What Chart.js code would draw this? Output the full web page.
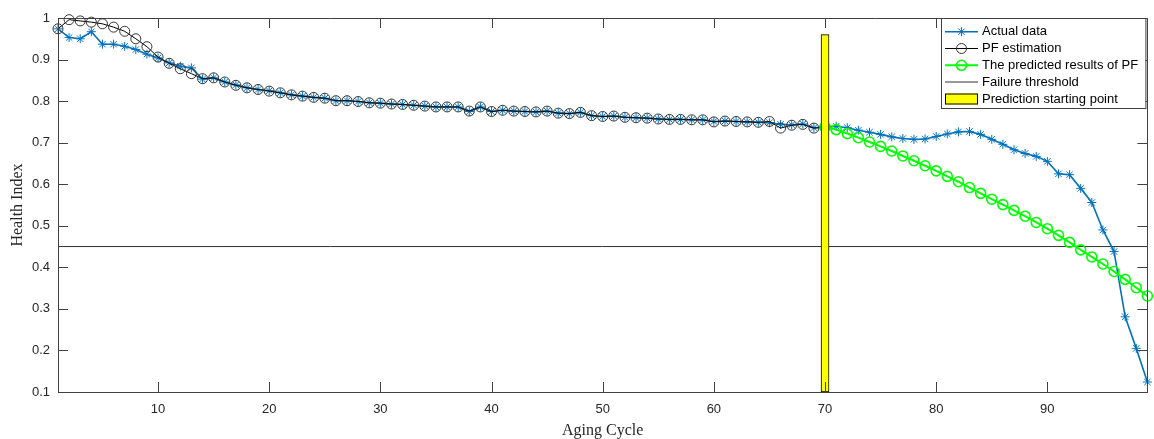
<!DOCTYPE html>
<html><head><meta charset="utf-8">
<script src="https://cdn.jsdelivr.net/npm/chart.js@4.4.0/dist/chart.umd.min.js"></script>
<style>html,body{margin:0;padding:0;background:#fff}#wrap{width:1154px;height:439px;position:relative}</style>
</head><body><div id="wrap"><canvas id="c" width="1154" height="439"></canvas></div>
<script>
// ---------------- data ----------------
const cycleStart = 1;
const cycleEnd = 99;
const xTickValues = [10, 20, 30, 40, 50, 60, 70, 80, 90];
const yTickValues = [0.1, 0.2, 0.3, 0.4, 0.5, 0.6, 0.7, 0.8, 0.9, 1];
const yMin = 0.1, yMax = 1;

// Actual data, cycles 1..99
const actualData = [
  0.974, 0.953, 0.950, 0.967, 0.937, 0.937, 0.932, 0.924, 0.913, 0.904,
  0.892, 0.884, 0.880, 0.853, 0.856, 0.846, 0.839, 0.832, 0.828, 0.825,
  0.820, 0.815, 0.812, 0.809, 0.807, 0.801, 0.801, 0.799, 0.796, 0.795,
  0.793, 0.792, 0.790, 0.788, 0.786, 0.786, 0.786, 0.775, 0.786, 0.775,
  0.778, 0.776, 0.775, 0.774, 0.776, 0.771, 0.770, 0.773, 0.765, 0.763,
  0.764, 0.761, 0.760, 0.759, 0.757, 0.756, 0.756, 0.755, 0.755, 0.751,
  0.752, 0.751, 0.750, 0.749, 0.748, 0.744, 0.743, 0.745, 0.736, 0.738,
  0.7395, 0.736, 0.730, 0.725, 0.720, 0.714, 0.710, 0.708, 0.709, 0.715,
  0.721, 0.726, 0.727, 0.720, 0.708, 0.696, 0.683, 0.674, 0.667, 0.655,
  0.625, 0.623, 0.590, 0.556, 0.490, 0.438, 0.281, 0.205, 0.124
];

// PF estimation, cycles 1..70
const pfEstimation = [
  0.974, 0.996, 0.993, 0.990, 0.986, 0.978, 0.968, 0.950, 0.931, 0.906,
  0.891, 0.878, 0.866, 0.854, 0.856, 0.846, 0.838, 0.832, 0.828, 0.824,
  0.820, 0.815, 0.812, 0.809, 0.807, 0.801, 0.801, 0.799, 0.796, 0.795,
  0.793, 0.792, 0.790, 0.788, 0.786, 0.786, 0.786, 0.776, 0.786, 0.775,
  0.778, 0.776, 0.775, 0.774, 0.776, 0.771, 0.770, 0.773, 0.765, 0.763,
  0.764, 0.761, 0.760, 0.759, 0.757, 0.756, 0.756, 0.755, 0.755, 0.750,
  0.752, 0.751, 0.750, 0.749, 0.751, 0.735, 0.742, 0.744, 0.735, 0.737
];

// Predicted results of PF, cycles 70..99
const predictionStart = 70;
const predictedPF = [
  0.738, 0.7315, 0.722, 0.712, 0.7016, 0.691, 0.680, 0.668, 0.6565, 0.6445,
  0.632, 0.619, 0.606, 0.592, 0.578, 0.564, 0.551, 0.537, 0.523, 0.508,
  0.493, 0.477, 0.460, 0.442, 0.425, 0.408, 0.390, 0.371, 0.351, 0.331
];

const failureThreshold = 0.45;
const predictionBarTop = 0.96;

const seriesNames = ['Actual data', 'PF estimation', 'The predicted results of PF', 'Failure threshold', 'Prediction starting point'];
const xTitle = 'Aging Cycle';
const yTitle = 'Health Index';

// ---------------- build ----------------
const toXY = (arr, start) => arr.map((v, i) => ({x: start + i, y: v}));

const BLUE = '#0072BD';
const GREEN = '#00FF00';
const AXIS = '#404040';
const TXT = '#262626';

const frameLegendPlugin = {
  id: 'frameLegend',
  afterDatasetsDraw(chart) {
    const {ctx, chartArea: a, scales: {x, y}} = chart;
    ctx.save();
    ctx.strokeStyle = AXIS;
    ctx.lineWidth = 1;
    ctx.beginPath();
    ctx.rect(Math.round(a.left) + 0.5, Math.round(a.top) + 0.5, Math.round(a.right - a.left), Math.round(a.bottom - a.top));
    ctx.stroke();
    const tl = 10;
    ctx.beginPath();
    x.ticks.forEach(t => {
      const px = Math.round(x.getPixelForValue(t.value)) + 0.5;
      ctx.moveTo(px, a.bottom); ctx.lineTo(px, a.bottom - tl);
      ctx.moveTo(px, a.top); ctx.lineTo(px, a.top + tl);
    });
    y.ticks.forEach(t => {
      const py = Math.round(y.getPixelForValue(t.value)) + 0.5;
      ctx.moveTo(a.left, py); ctx.lineTo(a.left + tl, py);
      ctx.moveTo(a.right, py); ctx.lineTo(a.right - tl, py);
    });
    ctx.stroke();
    ctx.restore();
  },
  afterDraw(chart) {
    const {ctx, chartArea: a} = chart;
    const ds = chart.data.datasets;
    ctx.save();
    const L = 941, R = a.right - 2, T = Math.round(a.top), B = 108;
    ctx.fillStyle = '#fff';
    ctx.fillRect(L, T, R - L, B - T);
    ctx.strokeStyle = AXIS;
    ctx.lineWidth = 1;
    ctx.strokeRect(L + 0.5, T + 0.5, R - L, B - T);
    const rows = [31.7, 48.5, 65.3, 82, 99];
    const x0 = 945, x1 = 978, xm = (x0 + x1) / 2;
    ctx.font = '13px "Liberation Sans", Arial, sans-serif';
    ctx.textBaseline = 'middle';
    const order = [0, 1, 2, 3, 4];
    order.forEach((di, r) => {
      const d = ds.find(s => s.label === seriesNames[di]);
      const yy = rows[r];
      if (d.type === 'bar') {
        ctx.fillStyle = d.backgroundColor;
        ctx.fillRect(x0, yy - 5.5, x1 - x0, 11);
        ctx.strokeStyle = d.borderColor;
        ctx.lineWidth = 1;
        ctx.strokeRect(x0 + 0.5, yy - 5.5 + 0.5, x1 - x0 - 1, 10);
      } else {
        ctx.strokeStyle = d.borderColor;
        ctx.lineWidth = d.borderWidth;
        ctx.beginPath(); ctx.moveTo(x0, yy); ctx.lineTo(x1, yy); ctx.stroke();
        if (d.pointRadius > 0) {
          ctx.strokeStyle = d.pointBorderColor;
          ctx.fillStyle = 'rgba(0,0,0,0)';
          ctx.lineWidth = d.pointBorderWidth;
          Chart.helpers.drawPoint(ctx, {pointStyle: d.pointStyle, radius: d.pointRadius, rotation: 0, borderWidth: d.pointBorderWidth}, xm, yy);
        }
      }
      ctx.fillStyle = '#000';
      ctx.textAlign = 'left';
      ctx.fillText(seriesNames[di], 982, yy);
    });
    ctx.restore();
  }
};

const chart = new Chart(document.getElementById('c'), {
  type: 'line',
  data: {
    datasets: [
      {
        label: seriesNames[4], type: 'bar',
        data: [{x: predictionStart, y: [yMin, predictionBarTop]}],
        backgroundColor: '#FFFF00', borderColor: '#000', borderWidth: 1, borderSkipped: false,
        barThickness: 8, order: 0
      },
      {
        label: seriesNames[2], data: toXY(predictedPF, predictionStart),
        borderColor: GREEN, borderWidth: 2, pointStyle: 'circle', pointRadius: 5,
        pointBorderColor: GREEN, pointBackgroundColor: 'rgba(0,0,0,0)', pointBorderWidth: 1.6,
        tension: 0, clip: false, order: 1
      },
      {
        label: seriesNames[1], data: toXY(pfEstimation, cycleStart),
        borderColor: '#000', borderWidth: 1, pointStyle: 'circle', pointRadius: 5,
        pointBorderColor: '#333', pointBackgroundColor: 'rgba(0,0,0,0)', pointBorderWidth: 1,
        tension: 0, clip: false, order: 2
      },
      {
        label: seriesNames[0], data: toXY(actualData, cycleStart),
        borderColor: BLUE, borderWidth: 1.6, pointStyle: 'star', pointRadius: 4.5,
        pointBorderColor: BLUE, pointBackgroundColor: BLUE, pointBorderWidth: 1,
        tension: 0, clip: false, order: 3
      },
      {
        label: seriesNames[3], data: [{x: cycleStart, y: failureThreshold}, {x: cycleEnd, y: failureThreshold}],
        borderColor: '#333', borderWidth: 1, pointRadius: 0, tension: 0, order: 4
      }
    ]
  },
  options: {
    responsive: false, animation: false, devicePixelRatio: 1,
    layout: {padding: {left: 0, top: 18, right: 3, bottom: 0}},
    plugins: {legend: {display: false}, tooltip: {enabled: false}},
    scales: {
      x: {
        type: 'linear', min: cycleStart, max: cycleEnd, offset: false,
        grid: {display: false, drawTicks: false},
        border: {display: true, color: AXIS, width: 1},
        afterBuildTicks: s => { s.ticks = xTickValues.map(v => ({value: v})); },
        afterFit: s => { s.height = 47; s.paddingLeft = 0; s.paddingRight = 0; },
        ticks: {padding: 10, color: TXT, font: {family: '"Liberation Sans", Arial, sans-serif', size: 13}, maxRotation: 0, autoSkip: false,
          callback: v => String(v)},
        title: {display: true, text: xTitle, color: TXT, padding: {top: 0, bottom: 0},
          font: {family: '"Liberation Serif", "Times New Roman", serif', size: 16, lineHeight: 1}}
      },
      y: {
        type: 'linear', min: yMin, max: yMax,
        grid: {display: false, drawTicks: false},
        border: {display: true, color: AXIS, width: 1},
        afterBuildTicks: s => { s.ticks = yTickValues.map(v => ({value: v})); },
        afterFit: s => { s.width = 58; s.paddingTop = 0; s.paddingBottom = 0; },
        ticks: {padding: 8, color: TXT, font: {family: '"Liberation Sans", Arial, sans-serif', size: 13}, autoSkip: false,
          callback: v => String(+Number(v).toFixed(1))},
        title: {display: true, text: yTitle, color: TXT, padding: {top: 10, bottom: 0},
          font: {family: '"Liberation Serif", "Times New Roman", serif', size: 16, lineHeight: 1}}
      }
    }
  },
  plugins: [frameLegendPlugin]
});
</script>
</body></html>
